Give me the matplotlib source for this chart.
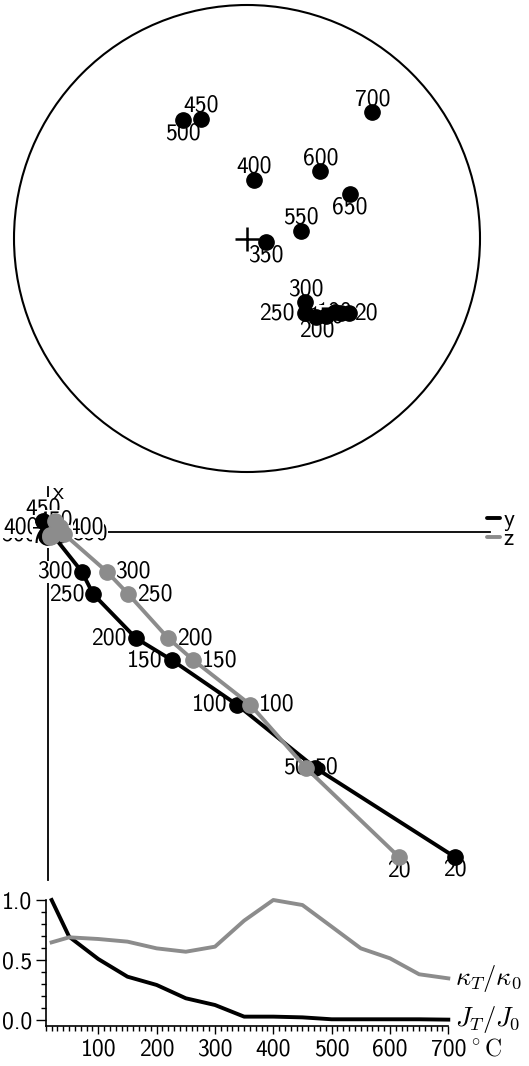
import numpy as np
import matplotlib.pyplot as plt
from matplotlib.patches import Circle
from matplotlib.lines import Line2D
from matplotlib.ticker import MultipleLocator

plt.rcParams['font.family'] = 'cmss10'
plt.rcParams['mathtext.fontset'] = 'cm'
plt.rcParams['axes.unicode_minus'] = False

GREY = '#8c8c8c'
FS = 17

# heating steps, degC
steps = [20, 50, 100, 150, 200, 250, 300, 350, 400, 450, 500, 550, 600, 650, 700]

# remanence direction after each step
dec = [126.0, 128.3, 130.0, 134.3, 138.5, 142.3, 137.4, 101.2, 6.6, 339.0,
       331.4, 82.0, 47.7, 66.7, 44.9]
inc = [44.8, 47.2, 49.4, 50.6, 52.9, 56.8, 59.6, 83.2, 69.4, 44.4,
       41.9, 71.1, 54.9, 50.4, 24.8]

# orthogonal components of the remanence (arbitrary units)
comp_x = [-1.000, -0.726, -0.531, -0.394, -0.327, -0.191, -0.122, -0.006, 0.015, 0.034,
          -0.009, -0.012, -0.009, -0.012, -0.015]
comp_y = [1.252, 0.823, 0.581, 0.381, 0.271, 0.139, 0.104, 0.012, 0.000, -0.015,
          -0.006, -0.003, -0.003, -0.006, -0.003]
comp_z = [1.080, 0.794, 0.622, 0.447, 0.370, 0.247, 0.181, 0.049, 0.037, 0.022,
          0.008, 0.012, 0.006, 0.010, 0.006]

# normalised remanence intensity and susceptibility
j_ratio = [1.000, 0.694, 0.508, 0.361, 0.292, 0.181, 0.125, 0.028, 0.028, 0.022,
           0.006, 0.006, 0.006, 0.006, 0.003]
k_ratio = [0.647, 0.689, 0.675, 0.653, 0.597, 0.569, 0.611, 0.828, 1.000, 0.958,
           0.778, 0.597, 0.514, 0.381, 0.347]

# where each step label goes
stereo_where = ['right', 'on', 'on', 'on', 'below', 'left', 'above', 'below', 'above',
                'above', 'below', 'above', 'above', 'below', 'above']
y_where = ['below', 'left', 'left', 'left', 'left', 'left', 'left', 'on', 'left',
           'above', 'left', 'left', 'left', 'left', 'left']
z_where = ['below', 'right', 'right', 'right', 'right', 'right', 'right', 'right', 'right',
           'on', 'on', 'on', 'on', 'on', 'on']


def put_labels(ax, xs, ys, where, gap, order):
    for i in order:
        w = where[i]
        if w == 'above':
            off, ha = (0, gap[1]), 'center'
        elif w == 'below':
            off, ha = (0, -gap[1]), 'center'
        elif w == 'left':
            off, ha = (-gap[0], 0), 'right'
        elif w == 'right':
            off, ha = (gap[2], 0), 'left'
        else:
            off, ha = (0, 0), 'center'
        ax.annotate(str(steps[i]), (xs[i], ys[i]), xytext=off, textcoords='offset points',
                    ha=ha, va='center', fontsize=FS, zorder=2,
                    bbox=dict(boxstyle='square,pad=0', fc='white', ec='none'))


fig = plt.figure(figsize=(5.29, 10.66), dpi=100)

# --- equal-area stereonet ---
ax1 = fig.add_axes([14 / 529, 1 - 472 / 1066, 466 / 529, 467 / 1066])
ax1.set_xlim(-1, 1)
ax1.set_ylim(-1, 1)
ax1.axis('off')
ax1.add_patch(Circle((0, 0), 1, fill=False, lw=1.5, color='black', clip_on=False))

d = np.radians(dec)
r = np.sqrt(2) * np.sin(np.radians(90 - np.array(inc)) / 2)
sx = r * np.sin(d)
sy = r * np.cos(d)
ax1.plot(sx, sy, 'o', color='black', ms=11, zorder=3)
ax1.plot(0, 0, '+', color='black', ms=17, mew=1.8, zorder=3)
put_labels(ax1, sx, sy, stereo_where, (7, 9.5, 3.5), range(len(steps)))

# --- orthogonal vector plot ---
ax2 = fig.add_axes([0, 181 / 1066, 1, 405 / 1066])
ax2.set_xlim(-48 / 325, 481 / 325)
ax2.set_ylim(-353 / 325, 52 / 325)
ax2.set_xticks([])
ax2.set_yticks([])
for s in ['top', 'right']:
    ax2.spines[s].set_visible(False)
ax2.spines['left'].set_position(('data', 0))
ax2.spines['left'].set_bounds(-1.071, 0.138)
ax2.spines['bottom'].set_position(('data', 0))
ax2.spines['bottom'].set_bounds(0, 1.36)
for s in ['left', 'bottom']:
    ax2.spines[s].set_linewidth(1.3)
    ax2.spines[s].set_zorder(1)

ax2.plot(comp_y, comp_x, '-o', color='black', lw=2.8, ms=11, zorder=3)
ax2.plot(comp_z, comp_x, '-o', color=GREY, lw=2.8, ms=11, zorder=4)
put_labels(ax2, comp_y, comp_x, y_where, (6.5, 9, 6), range(len(steps) - 1, -1, -1))
put_labels(ax2, comp_z, comp_x, z_where, (6.5, 9.5, 6), range(len(steps)))
ax2.text(0.015, 0.12, 'x', ha='left', va='center', fontsize=FS)

keys = [Line2D([], [], color='black', lw=2.8, solid_capstyle='round'),
        Line2D([], [], color=GREY, lw=2.8, solid_capstyle='round')]
ax2.legend(keys, ['y', 'z'], loc='upper right', bbox_to_anchor=(514 / 529, 376 / 405),
           frameon=False, handlelength=0.55, handletextpad=0.15, borderpad=0,
           borderaxespad=0, labelspacing=-0.12, fontsize=FS)

# --- intensity and susceptibility vs temperature ---
ax3 = fig.add_axes([45.8 / 529, 40.3 / 1066, 402.5 / 529, 125.7 / 1066])
ax3.plot(steps, j_ratio, color='black', lw=2.8, clip_on=False)
ax3.plot(steps, k_ratio, color=GREY, lw=2.8, clip_on=False)
ax3.set_xlim(10, 700)
ax3.set_ylim(-0.0475, 1.0)
for s in ['top', 'right']:
    ax3.spines[s].set_visible(False)
for s in ['left', 'bottom']:
    ax3.spines[s].set_linewidth(1.2)

ax3.set_xticks(range(100, 701, 100))
ax3.set_xticklabels([str(t) for t in range(100, 701, 100)])
ax3.xaxis.set_minor_locator(MultipleLocator(10))
ax3.set_yticks([0, 0.5, 1.0])
ax3.set_yticklabels(['0.0', '0.5', '1.0'])
ax3.yaxis.set_minor_locator(MultipleLocator(0.1))
ax3.tick_params(which='major', labelsize=FS, width=1, direction='out')
ax3.tick_params(axis='x', which='major', length=6, pad=3)
ax3.tick_params(axis='y', which='major', length=7, pad=3)
ax3.tick_params(which='minor', length=3.5, width=1, direction='out')

ax3.annotate(r'$^\circ\mathrm{C}$', xy=(700, 0), xycoords=('data', 'axes fraction'),
             xytext=(14, -9), textcoords='offset points', ha='left', va='top', fontsize=FS)
ax3.annotate(r'$\kappa_T/\kappa_0$', xy=(steps[-1], k_ratio[-1]), xytext=(5, 0),
             textcoords='offset points', ha='left', va='center', fontsize=19,
             annotation_clip=False)
ax3.annotate(r'$J_T/J_0$', xy=(steps[-1], j_ratio[-1]), xytext=(5, 0),
             textcoords='offset points', ha='left', va='center', fontsize=19,
             annotation_clip=False)

fig.savefig('out.png', dpi=100)
